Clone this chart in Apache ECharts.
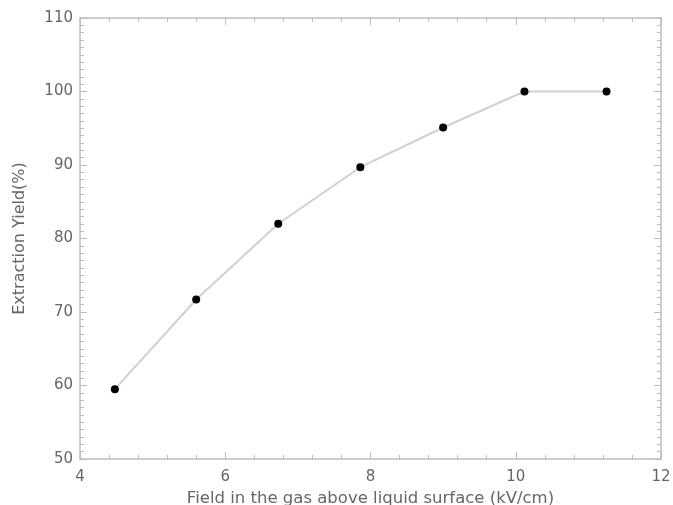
<!DOCTYPE html>
<html>
<head>
<meta charset="utf-8">
<script src="https://cdn.jsdelivr.net/npm/echarts@6/dist/echarts.min.js"></script>
<style>html,body{margin:0;padding:0;background:#fff}#c{width:673px;height:505px}</style>
</head>
<body>
<div id="c"></div>
<script>
var fieldValues = [4.48, 5.6, 6.73, 7.86, 9.0, 10.12, 11.25];
var yieldValues = [59.5, 71.7, 82.0, 89.7, 95.1, 100.0, 100.0];
var xTitle = 'Field in the gas above liquid surface (kV/cm)';
var yTitle = 'Extraction Yield(%)';

var pts = fieldValues.map(function (x, i) { return [x, yieldValues[i]]; });
var axisColor = '#bdbdbd';
var textColor = '#666';
var font = 'DejaVu Sans, sans-serif';

function baseAxis(extra) {
  var a = {
    type: 'value',
    axisLine: { show: true, lineStyle: { color: axisColor, width: 1.5 } },
    axisTick: { show: true, inside: true, length: 7, lineStyle: { color: axisColor } },
    minorTick: { show: true, length: 4, lineStyle: { color: axisColor } },
    splitLine: { show: false },
    axisLabel: { color: textColor, fontSize: 15, fontFamily: font }
  };
  for (var k in extra) a[k] = extra[k];
  return a;
}

var chart = echarts.init(document.getElementById('c'));
chart.setOption({
  animation: false,
  backgroundColor: '#fff',
  grid: { left: 80, right: 12, top: 18, bottom: 46, containLabel: false, outerBoundsMode: 'none' },
  xAxis: [
    baseAxis({ min: 4, max: 12, interval: 2, position: 'bottom',
      minorTick: { show: true, splitNumber: 5, length: 4, lineStyle: { color: axisColor } },
      axisLabel: { color: textColor, fontSize: 15, fontFamily: font, margin: 11 },
      name: xTitle, nameLocation: 'middle', nameGap: 27,
      nameTextStyle: { color: textColor, fontSize: 16.5, fontFamily: font } }),
    baseAxis({ min: 4, max: 12, interval: 2, position: 'top',
      minorTick: { show: true, splitNumber: 5, length: 4, lineStyle: { color: axisColor } },
      axisLabel: { show: false } })
  ],
  yAxis: [
    baseAxis({ min: 50, max: 110, interval: 10, position: 'left',
      minorTick: { show: true, splitNumber: 10, length: 4, lineStyle: { color: axisColor } },
      axisLabel: { color: textColor, fontSize: 15, fontFamily: font, margin: 7 },
      name: yTitle, nameLocation: 'middle', nameGap: 52, nameRotate: 90,
      nameTextStyle: { color: textColor, fontSize: 16, fontFamily: font } }),
    baseAxis({ min: 50, max: 110, interval: 10, position: 'right',
      minorTick: { show: true, splitNumber: 10, length: 4, lineStyle: { color: axisColor } },
      axisLabel: { show: false } })
  ],
  series: [{
    type: 'line',
    data: pts,
    xAxisIndex: 0,
    yAxisIndex: 0,
    symbol: 'circle',
    symbolSize: 8,
    itemStyle: { color: '#000' },
    lineStyle: { color: '#d0d0d0', width: 2 }
  }]
});
</script>
</body>
</html>
